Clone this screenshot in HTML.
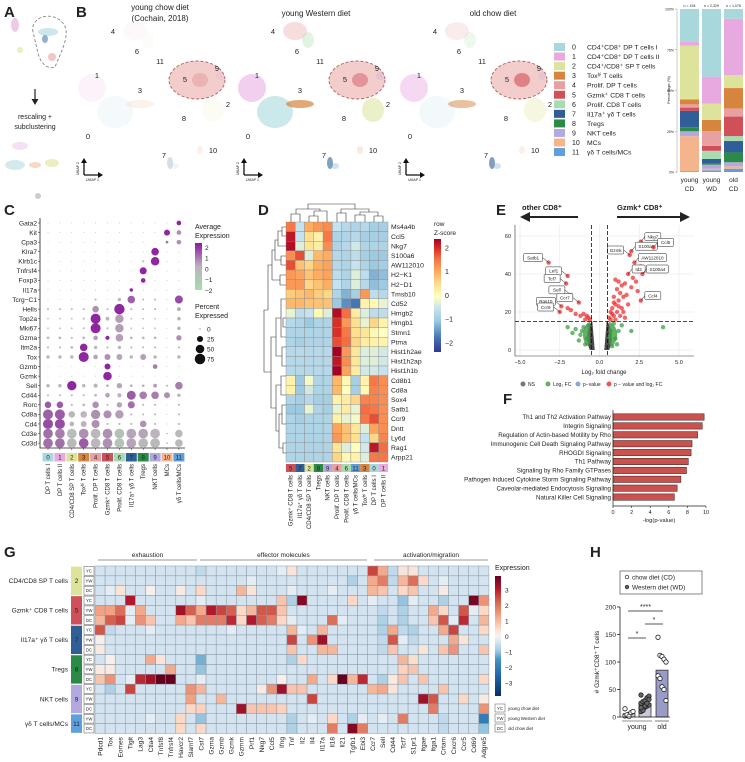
<!DOCTYPE html>
<html><head><meta charset="utf-8">
<style>
html,body{margin:0;padding:0;background:#fff;}
svg{display:block;font-family:"Liberation Sans",sans-serif;}
text{fill:#222;}
.pl{font-weight:bold;font-size:15px;}
.m{font-size:7px;}
</style></head>
<body>
<svg id="fig" width="745" height="762" viewBox="0 0 745 762" xmlns="http://www.w3.org/2000/svg">
<text class="pl" x="4" y="17">A</text>
<text class="pl" x="76" y="17">B</text>
<text class="pl" x="4" y="215">C</text>
<text class="pl" x="258" y="215">D</text>
<text class="pl" x="496" y="215">E</text>
<text class="pl" x="503" y="404">F</text>
<text class="pl" x="4" y="557">G</text>
<text class="pl" x="590" y="557">H</text>

<g>
  <ellipse cx="15" cy="25" rx="4" ry="7" fill="#e3b5e0" opacity="0.7"/>
  <path d="M33,32 C30,18 50,10 62,22 C72,32 62,50 55,67 C48,70 40,63 38,53 C36,45 35,40 33,32Z" fill="none" stroke="#777" stroke-dasharray="3,2" stroke-width="0.8"/>
  <ellipse cx="48" cy="32" rx="10" ry="4" fill="#a8d8dc" opacity="0.6"/>
  <ellipse cx="45" cy="39" rx="3" ry="4" fill="#2f5f96" opacity="0.5"/>
  <ellipse cx="52" cy="57" rx="4" ry="4" fill="#e8a0a0" opacity="0.6"/>
  <ellipse cx="20" cy="50" rx="3" ry="3" fill="#dde39a" opacity="0.6"/>
  <line x1="35" y1="89" x2="35" y2="101" stroke="#222" stroke-width="1.2"/>
  <polygon points="31.5,99 38.5,99 35,105" fill="#222"/>
  <text class="m" x="35" y="119" text-anchor="middle">rescaling +</text>
  <text class="m" x="35" y="129" text-anchor="middle">subclustering</text>
  <ellipse cx="20" cy="146" rx="8" ry="4" fill="#e3b5e0" opacity="0.4"/>
  <ellipse cx="15" cy="165" rx="10" ry="5" fill="#a8d8dc" opacity="0.5"/>
  <ellipse cx="35" cy="165" rx="6" ry="3" fill="#f4b48c" opacity="0.5"/>
  <ellipse cx="52" cy="163" rx="7" ry="4" fill="#dde39a" opacity="0.6"/>
  <ellipse cx="38" cy="196" rx="3" ry="3" fill="#999" opacity="0.5"/>
</g>

<text class="m" x="160" y="10" text-anchor="middle" style="font-size:8px">young chow diet</text>
<text class="m" x="160" y="21" text-anchor="middle" style="font-size:8px">(Cochain, 2018)</text>
<text class="m" x="316" y="16" text-anchor="middle" style="font-size:8px">young Western diet</text>
<text class="m" x="493" y="16" text-anchor="middle" style="font-size:8px">old chow diet</text>
<g id="umaps"></g>
<g id="bLegend"></g>
<g id="bBars"></g>
<g id="cPlot"></g>
<g id="dPlot"></g>
<g id="ePlot"></g>
<g id="fPlot"></g>
<g id="gPlot"></g>
<g id="hPlot"></g>
</svg>
<script>
const NS='http://www.w3.org/2000/svg';
function el(tag,attrs,parent){const e=document.createElementNS(NS,tag);for(const k in attrs)e.setAttribute(k,attrs[k]);(parent||document.getElementById('fig')).appendChild(e);return e;}
function tx(str,attrs,parent){const e=el('text',attrs,parent);e.textContent=str;return e;}
function lerpColor(stops,v){if(v<=stops[0][0])return stops[0][1];for(let i=1;i<stops.length;i++){if(v<=stops[i][0]){const a=stops[i-1],b=stops[i];const t=(v-a[0])/(b[0]-a[0]);const ca=hex(a[1]),cb=hex(b[1]);return 'rgb('+ca.map((c,k)=>Math.round(c+(cb[k]-c)*t)).join(',')+')';}}return stops[stops.length-1][1];}
function hex(h){return [1,3,5].map(i=>parseInt(h.substr(i,2),16));}

const clusterColors=['#a8d8dc','#e8a8e0','#dde39a','#d6843e','#e8a0a0','#d0505a','#a8dcb0','#2f5f96','#2a8a46','#b4a8e0','#f4b48c','#5fa0dc'];
const clusterNames=['CD4⁺CD8⁺ DP T cells I','CD4⁺CD8⁺ DP T cells II','CD4⁺/CD8⁺ SP T cells','Toxʰⁱ T cells','Prolif. DP T cells','Gzmk⁺ CD8 T cells','Prolif. CD8 T cells','Il17a⁺ γδ T cells','Tregs','NKT cells','MCs','γδ T cells/MCs'];

/* ---------- B: UMAPs ---------- */
const umapOffsets=[0,160,322];
const umapLabelNums=['4','6','11','1','3','5','9','2','8','0','7','10'];
const umapLabelX=[113,137,160,97,140,185,217,228,184,88,164,213];
const umapLabelY=[34,54,64,78,93,82,71,107,121,139,158,153];
const blobCluster=[1,0,3,2,4,6,5,7,11,10,9];
const blobX=[92,115,140,213,135,148,200,170,175,200,220];
const blobY=[88,112,104,110,31,40,80,163,166,150,76];
const blobRX=[14,18,14,11,12,6,8,3,4,3,4];
const blobRY=[14,16,4,12,9,8,7,6,3,4,4];
const blobAlpha=[[.15,.12,.1,.12,.06,.05,.2,.2,.1,.2,.1],[.55,.6,.7,.55,.35,.35,.45,.6,.3,.3,.25],[.45,.15,.5,.3,.2,.2,.6,.6,.3,.2,.2]];
const um=document.getElementById('umaps');
umapOffsets.forEach((off,p)=>{
  const g=el('g',{},um);
  
  
  el('ellipse',{cx:197+off,cy:80,rx:28,ry:19,fill:'#f2c4c4',stroke:'#a04040','stroke-dasharray':'3,2','stroke-width':0.9,opacity:0.85},g);
  blobCluster.forEach((c,i)=>{
    const b=el('ellipse',{cx:blobX[i]+off,cy:blobY[i],rx:blobRX[i],ry:blobRY[i],fill:clusterColors[c],opacity:blobAlpha[p][i]},g);
    
    
  });
  umapLabelNums.forEach((n,i)=>{tx(n,{x:umapLabelX[i]+off,y:umapLabelY[i],'font-size':7.5,'text-anchor':'middle'},g);});
  el('path',{d:`M${84+off},175 L${84+off},162 M${84+off},175 L${99+off},175`,stroke:'#111','stroke-width':1.3,fill:'none'},g);
  el('polygon',{points:`${81+off},163 ${87+off},163 ${84+off},158`,fill:'#111'},g);
  el('polygon',{points:`${98+off},172 ${98+off},178 ${103+off},175`,fill:'#111'},g);
  tx('UMAP 1',{x:86+off,y:181,'font-size':3.5},g);
  tx('UMAP 2',{x:79+off,y:175,'font-size':3.5,transform:`rotate(-90 ${79+off} 175)`},g);
});

/* ---------- B legend ---------- */
const bl=document.getElementById('bLegend');
clusterNames.forEach((n,i)=>{
  const y=47+i*9.55;
  const r=el('rect',{x:554,y:y-4,width:11,height:8,fill:clusterColors[i]},bl);
  
  
  tx(String(i),{x:572,y:y+2.5,'font-size':7},bl);
  const t=tx(n,{x:587,y:y+2.5,'font-size':6.8},bl);
  
  
});

/* ---------- B stacked bars ---------- */
const barGroups=['young CD','young WD','old CD'];
const groupN=['n = 154','n = 2,329','n = 1,076'];
const pctYoungCD=[20,2.5,33,3,2,2,0,10,2.5,3,21.5,0.5];
const pctYoungWD=[41.5,16.5,10,7,9,3,5,3,0.5,2.5,1,1];
const pctOldCD=[6,34.5,8,12.5,5,12,3,7,6,2.5,1.5,2];
const bPcts=[pctYoungCD,pctYoungWD,pctOldCD];
const bTicks=[0,25,50,75,100];
const bb=document.getElementById('bBars');
const by=p=>172-p*1.63;
el('line',{x1:677,y1:9,x2:677,y2:173,stroke:'#999','stroke-width':0.5},bb);
bTicks.forEach(t=>{el('line',{x1:675,y1:by(t),x2:677,y2:by(t),stroke:'#999','stroke-width':0.5},bb);tx(t+'%',{x:674,y:by(t)+1.5,'font-size':3.5,'text-anchor':'end'},bb);});
tx('Percentage (%)',{x:670,y:90,'font-size':4,'text-anchor':'middle',transform:'rotate(-90 670 90)'},bb);
bPcts.forEach((arr,g)=>{
  const x=680+g*22;
  let cum=0;
  for(let c=arr.length-1;c>=0;c--){
    const r=el('rect',{x:x,y:by(cum+arr[c]),width:19,height:arr[c]*1.63,fill:clusterColors[c]},bb);
    
    
    cum+=arr[c];
  }
  tx(groupN[g],{x:x+9.5,y:7,'font-size':3.6,'text-anchor':'middle'},bb);
  const parts=barGroups[g].split(' ');
  tx(parts[0],{x:x+9.5,y:182,'font-size':6.5,'text-anchor':'middle'},bb);
  tx(parts[1],{x:x+9.5,y:191,'font-size':6.5,'text-anchor':'middle'},bb);
});

/* ---------- C: dot plot ---------- */
const cGenes=['Gata2','Kit','Cpa3','Klra7','Klrb1c','Tnfrsf4','Foxp3','Il17a','Tcrg−C1','Hells','Top2a','Mki67','Gzma','Itm2a','Tox','Gzmb','Gzmk','Sell','Cd44','Rorc','Cd8a','Cd4','Cd3e','Cd3d'];
const cClusters=['DP T cells I','DP T cells II','CD4/CD8 SP T cells','Toxʰⁱ T cells','Prolif. DP T cells','Gzmk⁺ CD8 T cells','Prolif. CD8 T cells','Il17a⁺ γδ T cells','Tregs','NKT cells','MCs','γδ T cells/MCs'];
const cPct=[
[1,1,1,1,1,1,1,1,1,1,1,15],
[1,1,1,1,1,1,1,1,1,1,25,15],
[0,0,0,0,0,0,0,0,0,0,5,15],
[1,1,1,1,1,1,1,1,1,40,1,1],
[1,1,1,1,1,1,1,1,3,50,1,1],
[1,1,1,1,1,1,1,1,35,1,1,1],
[0,0,0,0,0,0,0,0,15,0,0,0],
[0,0,0,0,0,0,0,8,0,0,0,0],
[1,1,1,1,3,1,8,40,3,3,1,45],
[3,3,3,3,30,3,75,3,3,3,1,10],
[2,2,2,3,70,10,50,2,2,2,1,8],
[2,2,2,3,70,3,50,2,2,2,1,8],
[5,5,3,5,15,12,40,5,5,5,1,20],
[3,3,5,40,8,3,8,3,3,3,1,3],
[8,8,8,70,15,25,25,8,25,8,1,8],
[1,1,1,1,1,25,1,1,1,15,1,1],
[1,1,1,1,1,50,1,1,1,1,1,1],
[8,8,60,8,12,5,20,5,5,10,3,40],
[3,3,3,3,5,15,12,55,40,40,25,8],
[30,30,3,5,30,3,20,35,3,3,1,3],
[70,70,30,30,60,45,50,3,3,3,1,3],
[70,70,15,25,45,3,3,3,30,3,1,3],
[65,65,65,65,65,65,65,65,65,65,2,40],
[65,65,65,65,65,65,65,65,65,65,2,40]];
const cExpr=[
[-.3,-.3,-.3,-.3,-.3,-.3,-.3,-.3,-.3,-.3,-.3,2],
[-.3,-.3,-.3,-.3,-.3,-.3,-.3,-.3,-.3,-.3,2,.5],
[-.3,-.3,-.3,-.3,-.3,-.3,-.3,-.3,-.3,-.3,1,.5],
[-.3,-.3,-.3,-.3,-.3,-.3,-.3,-.3,-.3,2,-.3,-.3],
[-.3,-.3,-.3,-.3,-.3,-.3,-.3,-.3,-.3,2,-.3,-.3],
[-.3,-.3,-.3,-.3,-.3,-.3,-.3,-.3,2,-.3,-.3,-.3],
[-.3,-.3,-.3,-.3,-.3,-.3,-.3,-.3,2,-.3,-.3,-.3],
[-.3,-.3,-.3,-.3,-.3,-.3,-.3,2,-.3,-.3,-.3,-.3],
[-.3,-.3,-.3,-.3,-.3,-.3,-.2,1.2,-.3,-.3,-.3,1.5],
[-.3,-.3,-.3,-.3,.5,-.3,2,-.3,-.3,-.3,-.3,.2],
[-.3,-.3,-.3,-.3,2,-.2,.3,-.3,-.3,-.3,-.3,.1],
[-.3,-.3,-.3,-.3,2,-.3,.3,-.3,-.3,-.3,-.3,.1],
[-.3,-.3,-.3,-.3,.3,2,.3,-.3,-.3,-.3,-.3,.5],
[-.3,-.3,-.2,2,-.3,-.3,-.3,-.3,-.3,-.3,-.3,-.3],
[-.2,-.2,-.2,2,.2,.5,.2,-.2,.3,-.2,-.3,-.2],
[-.3,-.3,-.3,-.3,-.3,2,-.3,-.3,-.3,.8,-.3,-.3],
[-.3,-.3,-.3,-.3,-.3,2,-.3,-.3,-.3,-.3,-.3,-.3],
[-.2,-.2,2,-.2,-.1,-.2,.2,-.2,-.2,.3,-.2,.8],
[-.3,-.3,-.3,-.3,-.2,.2,-.1,1.3,.8,.8,.5,-.2],
[1.3,1.3,-.3,-.2,.5,-.3,.2,1,-.3,-.3,-.3,-.3],
[1.2,1.3,-.3,-.2,.5,.5,.3,-.3,-.3,-.3,-.3,-.3],
[1.5,1.5,-.2,-.1,.5,-.3,-.3,-.3,.5,-.3,-.3,-.3],
[1,.8,-.5,.5,-.3,.5,-.7,.2,.2,-.2,-.3,-.3],
[1,1,-.3,1.3,-.2,.5,-.8,.2,-.3,-.3,-.3,-.3]];
const cLegendPct=[0,25,50,75];
const cStops=[[-2,'#a8dcb0'],[0,'#bcb2bc'],[1,'#a070a8'],[2.2,'#8b1a9e']];
const cp=document.getElementById('cPlot');
const cx=i=>48+i*11.9, cy=j=>223+j*9.57;
const cr=p=>p<=1?0.45:Math.max(0.6,Math.sqrt(p/75)*5.2);
el('path',{d:'M40,218 L40,448 L185,448',stroke:'#222','stroke-width':0.8,fill:'none'},cp);
cGenes.forEach((g,j)=>{
  tx(g,{x:37,y:cy(j)+2.3,'font-size':6.6,'text-anchor':'end'},cp);
  el('line',{x1:38,y1:cy(j),x2:40,y2:cy(j),stroke:'#222','stroke-width':0.5},cp);
  cPct[j].forEach((p,i)=>{
    const d=el('circle',{cx:cx(i),cy:cy(j),r:cr(p),fill:lerpColor(cStops,cExpr[j][i])},cp);
    
    
  });
});
cClusters.forEach((n,i)=>{
  el('line',{x1:cx(i),y1:448,x2:cx(i),y2:450,stroke:'#222','stroke-width':0.5},cp);
  const r=el('rect',{x:cx(i)-5.5,y:453,width:11,height:8.5,fill:clusterColors[i]},cp);
  
  
  tx(String(i),{x:cx(i),y:459.5,'font-size':6,'text-anchor':'middle',fill:(i==7||i==8)?'#fff':'#222'},cp);
  tx(n,{x:cx(i)+2,y:464,'font-size':6,'text-anchor':'end',transform:`rotate(-90 ${cx(i)+2} 464)`},cp);
});
tx('Average',{x:195,y:229,'font-size':7},cp);
tx('Expression',{x:195,y:238,'font-size':7},cp);
const cGrad=el('linearGradient',{id:'cgrad',x1:0,y1:1,x2:0,y2:0},el('defs',{},cp));
[['0%','#a8dcb0'],['50%','#bcb2bc'],['100%','#8b1a9e']].forEach(s=>el('stop',{offset:s[0],'stop-color':s[1]},cGrad));
el('rect',{x:195,y:243,width:7,height:47,fill:'url(#cgrad)'},cp);
[2,1,0,-1,-2].forEach((v,k)=>tx(v<0?'−'+(-v):String(v),{x:205,y:248+k*10.7+2,'font-size':6.5},cp));
tx('Percent',{x:195,y:309,'font-size':7},cp);
tx('Expressed',{x:195,y:318,'font-size':7},cp);
cLegendPct.forEach((p,k)=>{const y=329+k*10;el('circle',{cx:200,cy:y,r:cr(p+1),fill:'#111'},cp);tx(String(p),{x:207,y:y+2.3,'font-size':6.5},cp);});

/* ---------- D: heatmap ---------- */
const dGenes=['Ms4a4b','Ccl5','Nkg7','S100a6','AW112010','H2−K1','H2−D1','Tmsb10','Cd52','Hmgb2','Hmgb1','Stmn1','Ptma','Hist1h2ae','Hist1h2ap','Hist1h1b','Cd8b1','Cd8a','Sox4','Satb1','Ccr9','Dntt','Ly6d','Rag1','Arpp21'];
const dCols=['Gzmk⁺ CD8 T cells','Il17a⁺ γδ T cells','CD4/CD8 SP T cells','Tregs','NKT cells','Prolif. DP T cells','Prolif. CD8 T cells','γδ T cells/MCs','Toxʰⁱ T cells','DP T cells I','DP T cells II'];
const dColIds=[5,7,2,8,9,4,6,11,3,0,1];
const dZ=[
[1.5,-.5,1,1.2,1.3,-.5,-.7,-.8,-.7,-.9,-.9],
[2.2,-.5,.5,.2,1.5,-.8,-.8,-.7,-.9,-.9,-.9],
[2.3,-.3,.4,.3,1.3,-.8,-.7,-.4,-.8,-.8,-.8],
[1.3,1.8,-.3,.9,1,-.7,-.8,-.6,-.9,-1,-1],
[1.8,.8,.6,1,1.1,-.7,-.8,-.5,-.8,-1,-.9],
[1.2,1.1,.8,1,1.1,-.6,-.8,-.3,-.6,-1.2,-1.1],
[1.2,1.2,.6,.8,1,-.5,-.8,-.3,-.7,-1.1,-1],
[.7,.8,.9,.7,.6,-.8,-1.2,-.9,1.2,-.6,-.7],
[.9,.9,.8,.8,.8,-1,-1.5,-1.7,.2,.1,-.2],
[-.2,-.6,-.5,.1,-.3,2.3,1.6,.3,-.3,-.6,-.6],
[-.7,-.8,-1,-.8,-.8,2,1.2,.5,-.2,.6,.2],
[-.8,-.8,-.8,-.8,-.8,2,1.5,.5,.4,.1,0],
[-.8,-.9,-.8,-.8,-.8,1.8,1.6,.6,.3,.2,.2],
[-.7,-.7,-.7,-.7,-.7,2.4,1.2,.4,-.3,-.3,-.4],
[-.7,-.7,-.7,-.7,-.7,2.2,1.3,.4,-.3,-.3,-.4],
[-.7,-.7,-.7,-.7,-.7,2.4,1.1,.3,-.4,-.4,-.5],
[.2,-1,-.1,-.8,-.8,.9,.1,-.9,.2,1.5,1.3],
[.2,-1,-.4,-.8,-.8,.9,0,-.9,.1,1.4,1.3],
[-.8,-.9,-.7,-.9,-.9,.2,.3,.6,1.4,1.4,1.3],
[-1,-1,-.2,-.8,-.9,-.2,.3,-.2,1.6,1.5,1.3],
[-.8,-.9,-.8,-.8,-.8,.2,-.2,-.1,1.5,1.8,1.3],
[-.8,-.8,-.8,-.8,-.8,1.1,.8,.4,-.3,1.1,1.3],
[-.8,-.8,-.8,-.8,-.8,1.2,.8,.5,-.5,.6,1.4],
[-.8,-.8,-.8,-.8,-.8,.4,-.3,0,-.4,2.2,1.6],
[-.8,-.8,-.8,-.8,-.8,.6,.1,.2,-.3,1.5,1.5]];
const dStops=[[-2.3,'#313695'],[-1.7,'#4575b4'],[-1,'#9ecae1'],[-.5,'#c6e2ee'],[0,'#ffffbf'],[.5,'#fee090'],[1,'#fdae61'],[1.6,'#f46d43'],[2,'#d73027'],[2.4,'#a50026']];
const dp=document.getElementById('dPlot');
const dx0=286,dcw=102/11,dy0=222,drh=240/25;
dZ.forEach((row,j)=>row.forEach((v,i)=>{
  const r=el('rect',{x:dx0+i*dcw,y:dy0+j*drh,width:dcw,height:drh,fill:lerpColor(dStops,v),stroke:'#8a8a8a','stroke-width':0.4},dp);
  
  
}));
dGenes.forEach((g,j)=>tx(g,{x:391,y:dy0+j*drh+drh/2+2.4,'font-size':6.8},dp));
dCols.forEach((n,i)=>{
  const x=dx0+i*dcw;
  el('rect',{x:x,y:464,width:dcw,height:8,fill:clusterColors[dColIds[i]]},dp);
  tx(String(dColIds[i]),{x:x+dcw/2,y:470.5,'font-size':6,'text-anchor':'middle',fill:(dColIds[i]==7||dColIds[i]==8)?'#fff':'#222'},dp);
  tx(n,{x:x+dcw/2+2,y:475,'font-size':6,'text-anchor':'end',transform:`rotate(-90 ${x+dcw/2+2} 475)`},dp);
});
el('path',{d:'M286,227 H282 V236 H286 M282,231 H278 V246 H286 M286,256 H281 V265 H286 M278,240 H275 V260 H281 M286,275 H280 V285 H286 M275,250 H272 V280 H280 M272,265 H268 V310 M286,299 H281 V337 H286 M286,318 H283 V327 H286 M286,347 H282 V366 H286 M281,318 H276 V356 H282 M286,376 H281 V395 H286 M286,405 H282 V424 H286 M286,443 H283 V453 H286 M282,414 H279 V448 H283 M281,385 H276 V431 H279 M276,337 H271 V408 H276 M271,372 H264 V310 H268',stroke:'#333','stroke-width':0.6,fill:'none'},dp);
el('path',{d:'M291,222 V214 H300 V222 M309,222 V216 H318 V222 M314,216 V211 H327 V222 M296,214 V209 H320 V211 M337,222 V213 H346 V222 M355,222 V215 H365 V222 M374,222 V216 H383 V222 M360,215 V212 H378 V216 M341,213 V209 H369 V212 M308,209 V204 H355 V209',stroke:'#333','stroke-width':0.6,fill:'none'},dp);
tx('row',{x:434,y:226,'font-size':6.5},dp);
tx('Z-score',{x:434,y:235,'font-size':6.5},dp);
const dGrad=el('linearGradient',{id:'dgrad',x1:0,y1:1,x2:0,y2:0},el('defs',{},dp));
dStops.forEach(s=>el('stop',{offset:((s[0]+2.3)/4.7*100)+'%','stop-color':s[1]},dGrad));
el('rect',{x:434,y:239,width:7,height:113,fill:'url(#dgrad)'},dp);
[2,1,0,-1,-2].forEach(v=>tx(v<0?'−'+(-v):String(v),{x:445,y:248+(2-v)*23.8+2.3,'font-size':7},dp));

/* ---------- E: volcano ---------- */
const eLabels=['Satb1','Lef1','Tcf7','Sell','Ccr7','Rgs10','Ccr9','Nkg7','S100a6','Ccl5','Gzmk','AW112010','Id2','S100a4','Ccl4'];
const eLabelFC=[-3.2,-2,-2.1,-1.8,-1.3,-2.4,-2.5,2.6,2,3.4,1.9,2.2,1.8,2.7,2.6];
const eLabelP=[46,39,35,29,25,23,20,57,52,54,50,46,40,40,26];
const eRedFC=[1,1.2,1.4,1.6,1.1,1.3,.9,1.5,1.2,1,1.4,.8,1.1,.9,1.3,.7,1,1.6,2.4,2,2.3,1.8,-1,-.7,-1.5,-.9,-2,-1.2,-1.8,.6,.8,1.5,2.1,2.6,.7,.9,1.7,1.2,-.6,-.8];
const eRedP=[37,36,34,35,32,30,28,28,26,24,22,22,20,18,18,16,16,17,31,33,36,24,19,17,19,16,22,18,21,17,19,20,38,44,20,25,29,23,16,18];
const eGreenFC=[4,2,-2,-1.5,-1.2,-1,-.8,-1.3,.9,1.2,1,1.4,.7,-.7,-1.7,1.1,.8,-.9,-1.1,.6];
const eGreenP=[12,10,12,11,8,12,6,5,14,10,6,13,10,13,9,3,2,3,10,7];
const eTicksX=[-5,-2.5,0,2.5,5];
const eTicksY=[0,20,40,60];
const ep=document.getElementById('ePlot');
const ex=v=>599.5+v*15.9, ey=v=>350-v*1.9;
eTicksX.forEach(t=>{el('line',{x1:ex(t),y1:225,x2:ex(t),y2:356,stroke:'#e6e6e6','stroke-width':0.6},ep);tx(t.toFixed(1).replace('-','−'),{x:ex(t),y:364,'font-size':5.5,'text-anchor':'middle',fill:'#555'},ep);});
eTicksY.forEach(t=>{el('line',{x1:515,y1:ey(t),x2:694,y2:ey(t),stroke:'#e6e6e6','stroke-width':0.6},ep);tx(String(t),{x:511,y:ey(t)+2,'font-size':5.5,'text-anchor':'end',fill:'#555'},ep);});
el('path',{d:'M515,225 V356 H694',stroke:'#333','stroke-width':0.6,fill:'none'},ep);
el('path',{d:`M${ex(-.5)},${ey(15)} C${ex(-.9)},${ey(10)} ${ex(-.8)},${ey(3)} ${ex(-.6)},${ey(0)} L${ex(-.3)},${ey(0)} C${ex(-.35)},${ey(5)} ${ex(-.4)},${ey(10)} ${ex(-.45)},${ey(15)}Z`,fill:'#4a4a4a'},ep);
el('path',{d:`M${ex(.5)},${ey(15)} C${ex(.9)},${ey(10)} ${ex(.8)},${ey(3)} ${ex(.6)},${ey(0)} L${ex(.3)},${ey(0)} C${ex(.35)},${ey(5)} ${ex(.4)},${ey(10)} ${ex(.45)},${ey(15)}Z`,fill:'#4a4a4a'},ep);
el('path',{d:`M${ex(-.6)},${ey(15)} C${ex(-1.2)},${ey(12)} ${ex(-1.1)},${ey(5)} ${ex(-.8)},${ey(2)} L${ex(-.6)},${ey(3)}Z`,fill:'#3f9c44',opacity:0.8},ep);
el('path',{d:`M${ex(.6)},${ey(15)} C${ex(1.3)},${ey(12)} ${ex(1.2)},${ey(5)} ${ex(.8)},${ey(2)} L${ex(.6)},${ey(3)}Z`,fill:'#3f9c44',opacity:0.8},ep);
eGreenFC.forEach((v,i)=>{const c=el('circle',{cx:ex(v),cy:ey(eGreenP[i]),r:2.2,fill:'#3f9c44',opacity:0.75},ep);});
eRedFC.forEach((v,i)=>{const c=el('circle',{cx:ex(v),cy:ey(eRedP[i]),r:2.2,fill:'#e8282a',opacity:0.7},ep);});
el('line',{x1:ex(-.5),y1:225,x2:ex(-.5),y2:356,stroke:'#111','stroke-dasharray':'4,2','stroke-width':0.8},ep);
el('line',{x1:ex(.5),y1:225,x2:ex(.5),y2:356,stroke:'#111','stroke-dasharray':'4,2','stroke-width':0.8},ep);
el('line',{x1:515,y1:ey(15),x2:694,y2:ey(15),stroke:'#111','stroke-dasharray':'4,2','stroke-width':0.8},ep);
eLabels.forEach((n,i)=>{
  const px=ex(eLabelFC[i]),py=ey(eLabelP[i]);
  const c=el('circle',{cx:px,cy:py,r:2.2,fill:'#e8282a',opacity:0.75},ep);
  
  
  const left=eLabelFC[i]<0;
  const w=n.length*3+4;
  const bx=left?px-w-6:px-(n==='Gzmk'?w+6:-4), byy=py-9;
  el('line',{x1:px,y1:py,x2:left?bx+w:bx+(n==='Gzmk'?w:0),y2:byy+4,stroke:'#111','stroke-width':0.5},ep);
  el('rect',{x:bx,y:byy,width:w,height:8,fill:'#fff',stroke:'#222','stroke-width':0.5,rx:1},ep);
  tx(n,{x:bx+w/2,y:byy+5.8,'font-size':4.6,'text-anchor':'middle'},ep);
});
tx('Log₂ fold change',{x:604,y:374,'font-size':6,'text-anchor':'middle',fill:'#444'},ep);
el('path',{d:'M578,217 H527',stroke:'#222','stroke-width':2},ep);
el('polygon',{points:'520,217 530,212 530,222',fill:'#222'},ep);
el('path',{d:'M617,217 H682',stroke:'#222','stroke-width':2},ep);
el('polygon',{points:'690,217 680,212 680,222',fill:'#222'},ep);
tx('other CD8⁺',{x:522,y:210,'font-size':7.5,'font-weight':'bold'},ep);
tx('Gzmk⁺ CD8⁺',{x:617,y:210,'font-size':7.5,'font-weight':'bold'},ep);
const eLeg=[['NS','#555',523],['Log₂ FC','#3f9c44',548],['p−value','#7090d0',578],['p − value and log₂ FC','#e8282a',609]];
eLeg.forEach(l=>{el('circle',{cx:l[2],cy:384,r:2.5,fill:l[1],opacity:0.8},ep);tx(l[0],{x:l[2]+5,y:386,'font-size':5,fill:'#444'},ep);});

/* ---------- F ---------- */
const fPaths=['Th1 and Th2 Activation Pathway','Integrin Signaling','Regulation of Actin-based Motility by Rho','Immunogenic Cell Death Signaling Pathway','RHOGDI Signaling','Th1 Pathway','Signaling by Rho Family GTPases','Pathogen Induced Cytokine Storm Signaling Pathway','Caveolar-mediated Endocytosis Signaling','Natural Killer Cell Signaling'];
const fVals=[9.8,9.6,9.1,8.5,8.4,8.1,7.9,7.3,6.9,6.6];
const fTicks=[0,2,4,6,8,10];
const fp=document.getElementById('fPlot');
const fx=v=>613+v*9.3;
fPaths.forEach((n,i)=>{
  const y=417+i*8.9;
  const r=el('rect',{x:613,y:y-3.2,width:fx(fVals[i])-613,height:6.4,fill:'#c9524e',stroke:'#3a1a1a','stroke-width':0.5},fp);
  
  
  tx(n,{x:611,y:y+2.2,'font-size':6.2,'text-anchor':'end'},fp);
});
el('path',{d:'M613,410 V506 H706',stroke:'#222','stroke-width':0.7,fill:'none'},fp);
fTicks.forEach(t=>{el('line',{x1:fx(t),y1:506,x2:fx(t),y2:508,stroke:'#222','stroke-width':0.6},fp);tx(String(t),{x:fx(t),y:514,'font-size':5.5,'text-anchor':'middle'},fp);});
tx('-log(p-value)',{x:659,y:522,'font-size':5.8,'text-anchor':'middle'},fp);

/* ---------- G ---------- */
const gGenes=['Pdcd1','Tox','Eomes','Tigit','Lag3','Ctla4','Tnfsf8','Tnfrsf4','Havcr2','Slamf7','Cst7','Gzma','Gzmb','Gzmk','Gzmm','Prf1','Nkg7','Ccl5','Ifng','Tnf','Il2','Il4','Il17a','Il18','Il21','Tgfb1','Ebi3','Ccr7','Sell','Cd44','Tcf7','S1pr1','Itgae','Itga1','Crtam','Cxcr6','Ccr5','Cd69','Adgre5'];
const gRowGroups=['2','2','2','5','5','5','7','7','7','8','8','8','9','9','9','11','11'];
const gRowDiets=['YC','YW','DC','YC','YW','DC','YC','YW','DC','YC','YW','DC','YC','YW','DC','YW','DC'];
const gClusterNames=['CD4/CD8 SP T cells','Gzmk⁺ CD8 T cells','Il17a⁺ γδ T cells','Tregs','NKT cells','γδ T cells/MCs'];
const gClusterIds=[2,5,7,8,9,11];
const gClusterRows=[3,3,3,3,3,2];
const gVals=[
[-.4,-.4,-.4,-.4,-.4,-.4,-.4,-.4,-.4,-.4,-.6,-.4,-.4,-.4,-.4,-.4,-.4,-.4,-.2,.3,-.4,-.4,-.4,-.4,-.4,-.4,-.4,2.5,1.2,-.6,.3,.3,-.4,-.4,-.4,-.4,-.4,-.4,-.4],
[-.4,-.4,-.4,-.4,-.4,-.4,-.4,-.4,-.4,-.4,-.4,-.4,-.4,-.4,-.4,-.2,-.4,-.4,-.4,-.4,-.4,-.4,-.4,-.4,-.4,-.8,-.4,1.2,1.8,-.6,1,2,.5,-.4,-.2,-.4,-.4,-.4,-.4],
[-.4,-.2,.3,-.4,-.4,.1,-.4,-.4,.2,-.4,.5,-.4,-.4,-.4,1,.3,-.4,-.4,-.4,-.2,-.4,-.4,-.4,-.2,-.4,-.4,-.4,1,.8,-.4,.5,.8,-.4,-.4,.2,-.4,-.4,-.4,-.4],
[-.4,-.4,-.4,3,-.4,-.4,-.4,-.4,-.4,-.4,-.2,-.4,-.4,-.4,-.4,-.4,-.4,-.4,.8,-.8,3.5,-.4,-.4,-.4,-.4,.5,-.4,-.2,-.4,-.4,-1,-.2,-.4,-.4,-.8,-.4,-.4,3.6,1.5],
[1.3,1.3,2,-.2,1.2,-.4,-.4,-.4,3.2,2.2,1.2,3,2.5,2.2,.5,1,2.3,2.3,.8,-.4,-.4,-.4,-.4,-.4,-.4,-.4,-.4,-.4,-.6,-.4,-.8,-.4,-.4,1.2,.5,-.4,2.3,-.2,.5],
[1,2.2,2.5,-.2,1.5,.8,-.4,-.4,1.2,.8,1.8,1.8,1.8,2.8,.5,3,2.2,1.8,.5,-.2,-.4,-.4,-.4,2,-.2,-.4,-.4,-.4,-.8,-.4,-.8,-.4,-.4,.8,2.3,-.2,2.8,-.4,1],
[2.3,-.6,-.4,-.4,-.4,-.2,-.4,-.4,-.4,-.4,-.4,-.4,-.4,-.2,-.4,-.4,-.4,-.4,-.4,1,-.2,-.4,1,-.4,-.4,-.4,-.4,-.4,-.8,1.2,-.6,-.8,-.4,-.4,1.2,2.5,-.4,-.4,.5],
[.1,-.4,-.4,-.4,-.4,-.4,-.4,-.4,-.4,-.4,-.4,-.4,-.4,-.4,-.4,-.4,-.4,-.4,-.4,2.5,-.4,1.5,3.2,-.4,-.4,-.4,-.4,-.4,-.6,2.3,-.2,-.6,-.4,-.4,-.4,1.2,.3,-.4,-.4],
[.2,-.4,-.4,-.4,-.4,-.4,-.4,-.4,-.4,-.4,-.4,-.4,-.4,-.4,-.4,-.4,-.4,-.4,-.4,.8,-.4,-.4,1,1,-.4,-.4,-.4,-.4,-.6,.8,-.4,-.4,.3,-.4,.8,1.5,-.4,-.4,.8],
[-.4,.1,-.4,-.4,-.4,1.2,.3,-.4,-.4,-.4,-1.2,-.4,-.4,-.4,-.4,-.4,-.4,-.4,-.4,-.8,.5,-.4,-.4,-.4,-.4,-.4,-.4,-.4,-.4,-.4,1,.4,-.4,-.4,-.4,-.4,-.4,-.4,-.4],
[.2,.2,-.4,-.4,-.4,-.4,-.4,1.2,-.4,-.4,-1,-.4,-.4,-.4,-.4,-.4,-.4,-.4,-.4,-.4,-.4,-.4,-.4,-.4,-.4,-.4,-.4,-.4,-.4,-.4,.6,.8,-.4,-.4,-.4,-.4,-.4,-.4,-.4],
[.8,1.5,-.4,-.2,2.8,3.2,3.8,3.8,-.4,-.4,-.2,-.4,-.4,-.4,-.4,-.4,-.4,-.4,.1,-.4,-.4,1.2,-.4,.5,3.8,1,2.8,-.4,-.8,.2,.8,-.4,.8,-.4,-.4,-.4,-.4,-.4,.5],
[-.4,-.8,-.4,2.5,-.4,-.4,-.4,-.4,-.4,1.5,1,-.4,-.4,-.4,-.4,-.4,.2,1.5,3.2,.8,.8,-.4,-.4,-.4,-.4,-.4,-.4,1,1.2,.3,-.4,-.4,-.4,-.4,.8,-.4,-.4,-.4,-.4],
[-.4,-.4,-.4,-.4,-.4,-.4,-.4,-.4,-.4,1.3,-.4,-.4,1,-.4,-.4,-.4,-.4,-.4,-.4,-.4,-.4,2.5,-.4,-.4,-.4,-.4,-.4,-.4,-.4,-.4,-.4,-.4,3.2,2.3,-.4,-.4,.5,-.4,.2],
[-.4,-.4,-.4,-.4,-.4,-.4,-.4,-.4,-.4,.5,.6,-.4,-.4,-.4,3.2,.8,.8,.8,.6,-.4,-.4,-.4,-.4,-.4,-.4,-.4,-.4,-.4,-.4,-.4,-.4,-.4,-.4,1.8,-.4,-.4,-.4,-.4,1.5],
[-.4,-.4,-.4,-.4,-.4,-.2,-.4,-.4,.5,-.4,-1,-.4,-.4,-.4,-.4,-.4,-.4,-.4,-.4,-.8,-.4,-.2,-.4,.5,-.4,-.8,-.2,-.4,-.2,-.4,1.8,-.4,-.4,-.4,-.6,-.4,-.4,-.4,-2],
[-.4,-.4,-.4,-.4,-.4,-.4,-.4,-.4,.5,-.4,.5,-.4,-.4,-.4,-.4,-.4,-.4,-.4,-.4,-.8,-.4,-.4,-.4,1.8,-.4,3.5,1.8,-.4,-.4,-.4,-.4,-.4,-.4,-.4,-.6,-.4,-.4,-.4,-1]];
const gStops=[[-3.8,'#053061'],[-2.5,'#2166ac'],[-1.5,'#4393c3'],[-.9,'#a6cce3'],[-.4,'#d3e4f0'],[0,'#f5f5f5'],[.5,'#fbd9c6'],[1.3,'#f2a283'],[2.2,'#d6604d'],[3,'#b2182b'],[3.8,'#67001f']];
const gp=document.getElementById('gPlot');
const gx0=95,gcw=10.1,gy0=566,grh=9.85;
gVals.forEach((row,j)=>row.forEach((v,i)=>{
  const r=el('rect',{x:gx0+i*gcw,y:gy0+j*grh,width:gcw,height:grh,fill:lerpColor(gStops,v),stroke:'#8897a4','stroke-width':0.5},gp);
  
  
}));
gGenes.forEach((g,i)=>{const x=gx0+i*gcw+gcw/2+2.2;tx(g,{x:x,y:737,'font-size':6.6,'text-anchor':'end',transform:`rotate(-90 ${x} 737)`},gp);});
gRowDiets.forEach((d,j)=>{el('rect',{x:84,y:gy0+j*grh+0.5,width:10,height:grh-1,fill:'#fff',stroke:'#555','stroke-width':0.5},gp);tx(d,{x:89,y:gy0+j*grh+6.5,'font-size':4.3,'text-anchor':'middle'},gp);});
let gr=0;
gClusterIds.forEach((c,k)=>{
  const y=gy0+gr*grh, h=gClusterRows[k]*grh;
  const r=el('rect',{x:71,y:y+0.6,width:11,height:h-1.2,fill:clusterColors[c]},gp);
  
  
  tx(String(c),{x:76.5,y:y+h/2+2.3,'font-size':6.5,'text-anchor':'middle',fill:(c==7||c==8)?'#123':'#222'},gp);
  tx(gClusterNames[k],{x:68,y:y+h/2+2.3,'font-size':6.6,'text-anchor':'end'},gp);
  gr+=gClusterRows[k];
});
[['exhaustion',98,197],['effector molecules',200,367],['activation/migration',374,488]].forEach(s=>{
  el('line',{x1:s[1],y1:560,x2:s[2],y2:560,stroke:'#333','stroke-width':0.6},gp);
  tx(s[0],{x:(s[1]+s[2])/2,y:557,'font-size':6.5,'text-anchor':'middle'},gp);
});
tx('Expression',{x:495,y:570,'font-size':7},gp);
const gGrad=el('linearGradient',{id:'ggrad',x1:0,y1:1,x2:0,y2:0},el('defs',{},gp));
gStops.forEach(s=>el('stop',{offset:((s[0]+3.8)/7.6*100)+'%','stop-color':s[1]},gGrad));
el('rect',{x:495,y:576,width:6,height:120,fill:'url(#ggrad)'},gp);
[3,2,1,0,-1,-2,-3].forEach(v=>tx(v<0?'−'+(-v):String(v),{x:505,y:636.5-v*15.5+2.3,'font-size':6.5},gp));
[['YC','young chow diet'],['YW','young Western diet'],['DC','old chow diet']].forEach((d,k)=>{
  const y=704+k*10;
  el('rect',{x:495,y:y,width:10,height:8,fill:'#fff',stroke:'#555','stroke-width':0.5},gp);
  tx(d[0],{x:500,y:y+5.8,'font-size':4.3,'text-anchor':'middle'},gp);
  tx(d[1],{x:508,y:y+5.8,'font-size':4.3},gp);
});

/* ---------- H ---------- */
const hGroups=['young CD','young WD','old CD'];
const hYoungCD=[2,3,5,8,10,15,4,1];
const hYoungWD=[10,15,18,20,22,25,28,30,35,38,40,12,20,25,32,17];
const hOldCD=[145,112,110,105,100,75,70,55,50,30];
const hData=[hYoungCD,hYoungWD,hOldCD];
const hTicks=[0,50,100,150,200];
const hp=document.getElementById('hPlot');
const hy=v=>717-v*0.55;
const hxs=[629,645,662];
el('line',{x1:620,y1:hy(200),x2:620,y2:717,stroke:'#222','stroke-width':0.8},hp);
hTicks.forEach(t=>{el('line',{x1:617,y1:hy(t),x2:620,y2:hy(t),stroke:'#222','stroke-width':0.8},hp);tx(String(t),{x:616,y:hy(t)+2.3,'font-size':6.5,'text-anchor':'end'},hp);});
tx('# Gzmk⁺CD8⁺ T cells',{x:599,y:662,'font-size':6.5,'text-anchor':'middle',transform:'rotate(-90 599 662)'},hp);
hData.forEach((arr,g)=>{
  const mean=arr.reduce((a,b)=>a+b,0)/arr.length;
  const r=el('rect',{x:hxs[g]-6,y:hy(mean),width:12,height:717-hy(mean),fill:g==2?'#9a9cc8':'#c8c8d8',stroke:'#222','stroke-width':0.7},hp);
  
  
  arr.forEach((v,i)=>{
    const off=((i%5)-2)*2;
    const c=el('circle',{cx:hxs[g]+off,cy:hy(v),r:2.2,fill:g==1?'#666':'#fff',stroke:'#222','stroke-width':0.8},hp);
    
    
  });
});
el('line',{x1:620,y1:717,x2:670,y2:717,stroke:'#222','stroke-width':0.8},hp);
el('line',{x1:622,y1:721,x2:652,y2:721,stroke:'#222','stroke-width':0.6},hp);
el('line',{x1:655,y1:721,x2:669,y2:721,stroke:'#222','stroke-width':0.6},hp);
tx('young',{x:637,y:729,'font-size':7,'text-anchor':'middle'},hp);
tx('old',{x:662,y:729,'font-size':7,'text-anchor':'middle'},hp);
el('line',{x1:628,y1:638,x2:646,y2:638,stroke:'#222','stroke-width':0.7},hp);
tx('*',{x:637,y:636,'font-size':7,'text-anchor':'middle'},hp);
el('line',{x1:645,y1:624,x2:663,y2:624,stroke:'#222','stroke-width':0.7},hp);
tx('*',{x:654,y:622,'font-size':7,'text-anchor':'middle'},hp);
el('line',{x1:628,y1:611,x2:663,y2:611,stroke:'#222','stroke-width':0.7},hp);
tx('****',{x:645.5,y:609,'font-size':7,'text-anchor':'middle'},hp);
const hl=el('rect',{x:620,y:571,width:82,height:23,fill:'#fff',stroke:'#555','stroke-width':0.7},hp);


el('circle',{cx:627,cy:577,r:1.8,fill:'#fff',stroke:'#222','stroke-width':0.7},hp);
tx('chow diet (CD)',{x:632,y:579.5,'font-size':6.5},hp);
el('circle',{cx:627,cy:587,r:1.8,fill:'#666',stroke:'#222','stroke-width':0.7},hp);
tx('Western diet (WD)',{x:632,y:589.5,'font-size':6.5},hp);
</script>
</body></html>
